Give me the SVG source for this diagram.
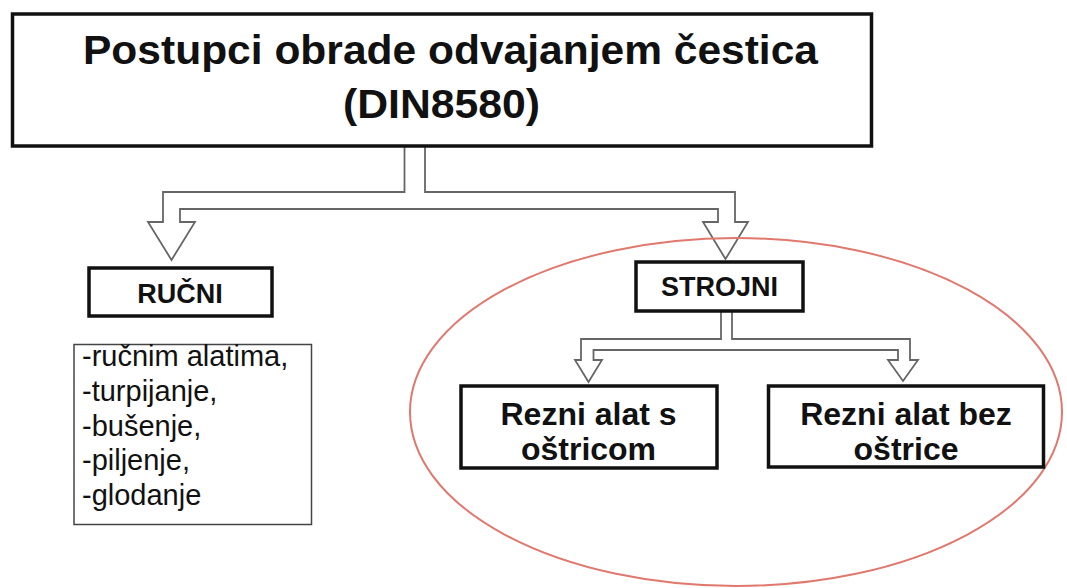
<svg xmlns="http://www.w3.org/2000/svg" width="1067" height="588" viewBox="0 0 1067 588">
<style>
.box{fill:#fff;stroke:#111;stroke-width:3.5}
.conn{fill:#fff;stroke:#666;stroke-width:1.8;stroke-linejoin:miter}
.b{font-family:"Liberation Sans",Arial,sans-serif;font-weight:bold;fill:#111}
.r{font-family:"Liberation Sans",Arial,sans-serif;fill:#111;font-size:29px}
</style>
<rect width="1067" height="588" fill="#fff"/>
<g id="connectors">
<path class="conn" d="M404.5,147 V192 H163 V222 H148 L171.5,260 L195,222 H180 V209 H718 V222 H703 L725.5,259 L748,222 H735 V192 H425 V147"/>
<path class="conn" d="M721,312 V339 H581 V360 H575 L588.5,382 L602,360 H593.5 V350 H898 V360 H888 L903,381 L918,360 H910 V339 H732 V312"/>
</g>
<g id="group-strojni">
<ellipse cx="736" cy="412" rx="326" ry="174" fill="none" stroke="#e0786e" stroke-width="2"/>
</g>
<g id="node-title">
<rect class="box" x="12.5" y="14" width="859" height="132" stroke-width="4.5"/>
<text class="b" x="83" y="64" font-size="41" textLength="735" lengthAdjust="spacingAndGlyphs">Postupci obrade odvajanjem čestica</text>
<text class="b" x="343" y="118" font-size="41" textLength="197" lengthAdjust="spacingAndGlyphs">(DIN8580)</text>
</g>
<g id="node-rucni">
<rect class="box" x="89" y="268" width="183" height="48"/>
<text class="b" x="180" y="303" font-size="27" text-anchor="middle">RUČNI</text>
</g>
<g id="node-list">
<rect x="74" y="344.5" width="237.5" height="180" fill="#fff" stroke="#444" stroke-width="1.5"/>
<text class="r" x="82" y="366">-ručnim alatima,</text>
<text class="r" x="82" y="401">-turpijanje,</text>
<text class="r" x="82" y="436">-bušenje,</text>
<text class="r" x="82" y="470">-piljenje,</text>
<text class="r" x="82" y="505">-glodanje</text>
</g>
<g id="node-strojni">
<rect class="box" x="636" y="262" width="167" height="49"/>
<text class="b" x="719.5" y="296" font-size="27" text-anchor="middle">STROJNI</text>
</g>
<g id="node-s-ostricom">
<rect class="box" x="461" y="386" width="256" height="82"/>
<text class="b" x="588.5" y="424.5" font-size="32" text-anchor="middle">Rezni alat s</text>
<text class="b" x="588.5" y="460" font-size="32" text-anchor="middle">oštricom</text>
</g>
<g id="node-bez-ostrice">
<rect class="box" x="768.5" y="386" width="275" height="81"/>
<text class="b" x="906" y="424.5" font-size="32" text-anchor="middle">Rezni alat bez</text>
<text class="b" x="906" y="460" font-size="32" text-anchor="middle">oštrice</text>
</g>
</svg>
